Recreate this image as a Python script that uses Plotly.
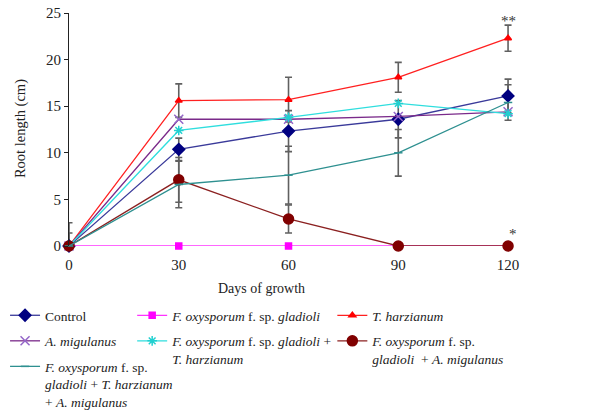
import plotly.graph_objects as go

# Sampling days
days = [0, 30, 60, 90, 120]

# Mean root length (cm) per treatment
control = [0, 10.37, 12.33, 13.6, 16.1]
fox = [0, 0, 0, 0, 0]
tharz = [0, 15.6, 15.7, 18.1, 22.3]
amig = [0, 13.6, 13.6, 13.9, 14.4]
fox_th = [0, 12.4, 13.8, 15.3, 14.2]
fox_am = [0, 7.1, 2.9, 0, 0]
fox_th_am = [0, 6.6, 7.6, 10.0, 15.4]

# Standard error bars (cm)
control_err = [1.4, 1.2, 2.2, 2.0, 1.8]
tharz_err = [2.5, 1.8, 2.4, 1.6, 1.4]
fox_am_err = [0, 2.4, 1.5, 0, 0]
fox_th_am_err = [0, 2.5, 3.1, 2.5, 1.9]

FONT = "Liberation Serif"

series = [
    # name, y, line colour, marker colour, symbol, size, legend
    ("Control", control, "#3a3a9a", "#000080", "diamond", 9, "legend"),
    ("<i>F. oxysporum</i> f. sp. <i>gladioli</i>", fox, "#ff33ff", "#ff00ff", "square", 6, "legend2"),
    ("<i>T. harzianum</i>", tharz, "#ff2020", "#ff0000", "triangle-up", 6, "legend3"),
    ("<i>A. migulanus</i>", amig, "#7a2a8a", "#9466c8", "x-thin-open", 9, "legend"),
    ("<i>F. oxysporum</i> f. sp. <i>gladioli</i> +<br><i>T. harzianum</i>", fox_th, "#2fdede", "#20d0d0", "asterisk-open", 8, "legend2"),
    ("<i>F. oxysporum</i> f. sp.<br><i>gladioli</i>  + <i>A. migulanus</i>", fox_am, "#8b2020", "#800000", "circle", 10, "legend3"),
    ("<i>F. oxysporum</i> f. sp.<br><i>gladioli</i> + <i>T. harzianum</i><br>+ <i>A. migulanus</i>", fox_th_am, "#2e9090", "#2e9090", "line-ew-open", 6, "legend"),
]

fig = go.Figure()

# Error bars, clipped to the plotting area
for y, err in [(control, control_err), (tharz, tharz_err), (fox_am, fox_am_err), (fox_th_am, fox_th_am_err)]:
    fig.add_trace(go.Scatter(
        x=days, y=y, mode="markers", marker=dict(size=1, opacity=0),
        error_y=dict(type="data", array=err, color="#606060", thickness=1.6, width=3.5),
        showlegend=False, hoverinfo="skip", cliponaxis=True,
    ))

for i, (name, y, lc, mc, sym, size, leg) in enumerate(series):
    fig.add_trace(go.Scatter(
        x=days, y=y, name=name, mode="lines+markers",
        line=dict(color=lc, width=1.3),
        marker=dict(color=mc, symbol=sym, size=size, line=dict(color=mc, width=1.5)),
        legend=leg, legendgroup=f"g{i}", cliponaxis=False,
    ))

# Significance markers
fig.add_annotation(x=days[-1], y=tharz[-1] + tharz_err[-1], text="**", showarrow=False,
                   yanchor="bottom", yshift=-6, font=dict(family=FONT, size=15, color="#333"))
fig.add_annotation(x=days[-1], y=fox_am[-1], text="*", showarrow=False,
                   yanchor="bottom", xshift=5, yshift=2, font=dict(family=FONT, size=15, color="#333"))

# Axis titles
fig.add_annotation(xref="paper", yref="paper", x=0.393, y=-0.182, text="Days of growth",
                   showarrow=False, xanchor="center", yanchor="middle",
                   font=dict(family=FONT, size=14, color="#222"))
fig.add_annotation(xref="paper", yref="paper", x=-0.0998, y=0.506, text="Root length (cm)",
                   showarrow=False, xanchor="center", yanchor="middle", textangle=-90,
                   font=dict(family=FONT, size=14.5, color="#222"))

legend_common = dict(
    xref="container", yref="container", xanchor="left", yanchor="top",
    orientation="v", valign="top", tracegroupgap=5, itemwidth=30,
    bgcolor="rgba(0,0,0,0)", font=dict(family=FONT, size=13.5, color="#222"),
)

fig.update_layout(
    width=594, height=412,
    margin=dict(l=69, r=34, t=13, b=166, autoexpand=False),
    paper_bgcolor="white", plot_bgcolor="white",
    font=dict(family=FONT, color="#222"),
    xaxis=dict(range=[0, 134.2], tickvals=days, ticktext=[str(d) for d in days],
               showgrid=False, zeroline=False, showline=False, ticks="",
               ticklabelstandoff=8, tickfont=dict(family=FONT, size=15, color="#222")),
    yaxis=dict(range=[0, 25], dtick=5, showgrid=False, zeroline=False, showline=True,
               linecolor="#222", linewidth=1, ticks="outside", ticklen=4, tickcolor="#222",
               tickfont=dict(family=FONT, size=15, color="#222")),
    legend=dict(x=0.0085, y=1 - 300 / 412, **legend_common),
    legend2=dict(x=0.2225, y=1 - 300 / 412, **legend_common),
    legend3=dict(x=0.5595, y=1 - 300 / 412, **legend_common),
)

fig.write_html("out.html")
